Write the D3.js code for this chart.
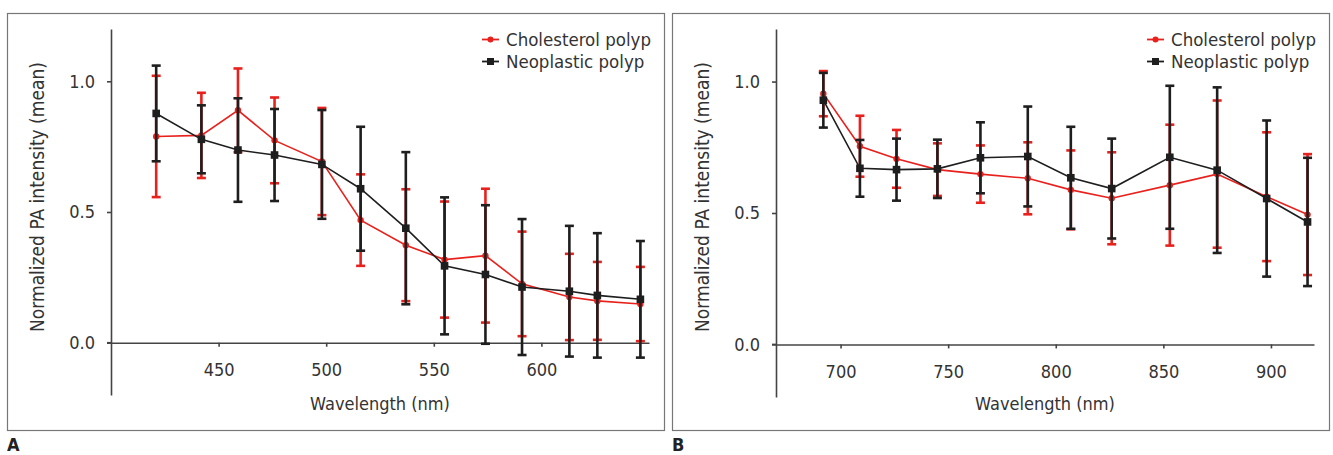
<!DOCTYPE html>
<html>
<head>
<meta charset="utf-8">
<script src="https://cdn.jsdelivr.net/npm/d3@7"></script>
<style>
  body { margin: 0; background: #fff; }
  text { font-family: "DejaVu Sans Condensed", "Liberation Sans Narrow", sans-serif; fill: #333; }
</style>
</head>
<body>
<script>
// panel A (visible range)
var wavelengthsA = [421, 442, 459, 476, 498, 516, 537, 555, 574, 591, 613, 626, 646];
var cholMeanA = [0.789, 0.793, 0.889, 0.774, 0.693, 0.469, 0.373, 0.318, 0.333, 0.225, 0.175, 0.160, 0.148];
var cholSdA = [0.232, 0.163, 0.160, 0.164, 0.205, 0.175, 0.214, 0.222, 0.256, 0.200, 0.165, 0.149, 0.142];
var neoMeanA = [0.877, 0.778, 0.737, 0.718, 0.682, 0.589, 0.438, 0.294, 0.261, 0.213, 0.197, 0.181, 0.166];
var neoSdA = [0.183, 0.130, 0.198, 0.176, 0.208, 0.237, 0.291, 0.262, 0.265, 0.260, 0.250, 0.238, 0.223];

// panel B (near infrared range)
var wavelengthsB = [692, 709, 726, 745, 765, 787, 807, 826, 853, 875, 898, 917];
var cholMeanB = [0.954, 0.754, 0.706, 0.665, 0.648, 0.632, 0.588, 0.556, 0.606, 0.648, 0.562, 0.494];
var cholSdB = [0.086, 0.116, 0.110, 0.100, 0.109, 0.137, 0.150, 0.175, 0.230, 0.280, 0.245, 0.230];
var neoMeanB = [0.929, 0.670, 0.665, 0.668, 0.710, 0.715, 0.634, 0.593, 0.712, 0.663, 0.555, 0.466];
var neoSdB = [0.104, 0.108, 0.118, 0.111, 0.135, 0.190, 0.194, 0.190, 0.272, 0.315, 0.297, 0.244];

var xTicksA = [450, 500, 550, 600];
var xTicksB = [700, 750, 800, 850, 900];
var yTicks = [0.0, 0.5, 1.0];
var seriesNames = ["Cholesterol polyp", "Neoplastic polyp"];

var red = "#e8211d";
var black = "#1e1e1e";

var svg = d3.select("body")
  .append("svg")
  .attr("width", 1333)
  .attr("height", 455);

svg.append("rect")
  .attr("width", "100%")
  .attr("height", "100%")
  .attr("fill", "#fff");

function zip(xs, means, sds) {
  return xs.map(function(x, i) {
    return { x: x, mean: means[i], sd: sds[i] };
  });
}

function drawPanel(opt) {
  var g = svg.append("g");

  // frame round the panel
  g.append("rect")
    .attr("x", opt.left + 0.5)
    .attr("y", 13.5)
    .attr("width", 657)
    .attr("height", 417)
    .attr("fill", "none")
    .attr("stroke", "#777")
    .attr("stroke-width", 1.2);

  g.append("text")
    .attr("x", opt.left)
    .attr("y", 451)
    .attr("font-size", 18)
    .attr("font-weight", "bold")
    .style("fill", "#222")
    .text(opt.label);

  var xScale = d3.scaleLinear()
    .domain(opt.xDomain)
    .range([opt.left + 104, opt.left + 642]);

  var yScale = d3.scaleLinear()
    .domain([-0.2, 1.2])
    .range([opt.bottom, 29]);

  // y axis
  var yAxis = d3.axisLeft(yScale)
    .tickValues(yTicks)
    .tickFormat(d3.format(".1f"))
    .tickSize(4)
    .tickSizeOuter(0)
    .tickPadding(12);

  var ya = g.append("g")
    .attr("transform", "translate(" + (opt.left + 104) + ",0)")
    .call(yAxis);
  ya.selectAll("text").attr("font-size", 18);

  // x axis on the zero line
  var xAxis = d3.axisBottom(xScale)
    .tickValues(opt.xTicks)
    .tickSize(4)
    .tickSizeOuter(0)
    .tickPadding(17);

  var xa = g.append("g")
    .attr("transform", "translate(0," + yScale(0) + ")")
    .call(xAxis);
  xa.selectAll("text").attr("font-size", 18);

  [ya, xa].forEach(function(a) {
    a.select(".domain").attr("stroke", "#444").attr("stroke-width", 1.6);
    a.selectAll(".tick line").attr("stroke", "#444").attr("stroke-width", 1.6);
  });

  // the y axis line crosses the zero line a little to the left
  g.append("line")
    .attr("x1", opt.left + 100)
    .attr("x2", opt.left + 104)
    .attr("y1", yScale(0))
    .attr("y2", yScale(0))
    .attr("stroke", "#444")
    .attr("stroke-width", 1.6);

  // axis titles
  g.append("text")
    .attr("x", (opt.left + 104 + opt.left + 642) / 2)
    .attr("y", 410)
    .attr("text-anchor", "middle")
    .attr("font-size", 18)
    .text("Wavelength (nm)");

  g.append("text")
    .attr("transform", "translate(" + (opt.left + 37) + ",197) rotate(-90)")
    .attr("text-anchor", "middle")
    .attr("font-size", 19)
    .text("Normalized PA intensity (mean)");

  var line = d3.line()
    .x(function(d) { return xScale(d.x); })
    .y(function(d) { return yScale(d.mean); });

  opt.series.forEach(function(s) {
    var sg = g.append("g");

    // error bars
    var bars = sg.selectAll("g.err")
      .data(s.data)
      .enter()
      .append("g")
      .attr("class", "err");

    bars.append("line")
      .attr("x1", function(d) { return xScale(d.x); })
      .attr("x2", function(d) { return xScale(d.x); })
      .attr("y1", function(d) { return yScale(d.mean - d.sd); })
      .attr("y2", function(d) { return yScale(d.mean + d.sd); })
      .attr("stroke", s.color)
      .attr("stroke-width", 2.6);

    [-1, 1].forEach(function(sign) {
      bars.append("line")
        .attr("x1", function(d) { return xScale(d.x) - 4.5; })
        .attr("x2", function(d) { return xScale(d.x) + 4.5; })
        .attr("y1", function(d) { return yScale(d.mean + sign * d.sd); })
        .attr("y2", function(d) { return yScale(d.mean + sign * d.sd); })
        .attr("stroke", s.color)
        .attr("stroke-width", 2.6);
    });

    sg.append("path")
      .datum(s.data)
      .attr("d", line)
      .attr("fill", "none")
      .attr("stroke", s.color)
      .attr("stroke-width", 1.6);

    // markers
    if (s.shape == "circle") {
      sg.selectAll("circle")
        .data(s.data)
        .enter()
        .append("circle")
        .attr("cx", function(d) { return xScale(d.x); })
        .attr("cy", function(d) { return yScale(d.mean); })
        .attr("r", 3.2)
        .attr("fill", s.color);
    } else {
      sg.selectAll("rect")
        .data(s.data)
        .enter()
        .append("rect")
        .attr("x", function(d) { return xScale(d.x) - 3.8; })
        .attr("y", function(d) { return yScale(d.mean) - 3.8; })
        .attr("width", 7.6)
        .attr("height", 7.6)
        .attr("fill", s.color);
    }
  });

  // legend
  var lx = opt.left + 475;
  opt.series.forEach(function(s, i) {
    var ly = 39.5 + i * 22;
    g.append("line")
      .attr("x1", lx)
      .attr("x2", lx + 17)
      .attr("y1", ly)
      .attr("y2", ly)
      .attr("stroke", s.color)
      .attr("stroke-width", 1.8);
    if (s.shape == "circle") {
      g.append("circle")
        .attr("cx", lx + 8.5)
        .attr("cy", ly)
        .attr("r", 3)
        .attr("fill", s.color);
    } else {
      g.append("rect")
        .attr("x", lx + 5)
        .attr("y", ly - 3.5)
        .attr("width", 7)
        .attr("height", 7)
        .attr("fill", s.color);
    }
    g.append("text")
      .attr("x", lx + 24)
      .attr("y", ly + 6.5)
      .attr("font-size", 18.5)
      .text(seriesNames[i]);
  });
}

drawPanel({
  left: 7,
  bottom: 395,
  label: "A",
  xDomain: [400, 650],
  xTicks: xTicksA,
  series: [
    { color: red, shape: "circle", data: zip(wavelengthsA, cholMeanA, cholSdA) },
    { color: black, shape: "square", data: zip(wavelengthsA, neoMeanA, neoSdA) }
  ]
});

drawPanel({
  left: 672,
  bottom: 397,
  label: "B",
  xDomain: [670, 920],
  xTicks: xTicksB,
  series: [
    { color: red, shape: "circle", data: zip(wavelengthsB, cholMeanB, cholSdB) },
    { color: black, shape: "square", data: zip(wavelengthsB, neoMeanB, neoSdB) }
  ]
});
</script>
</body>
</html>
